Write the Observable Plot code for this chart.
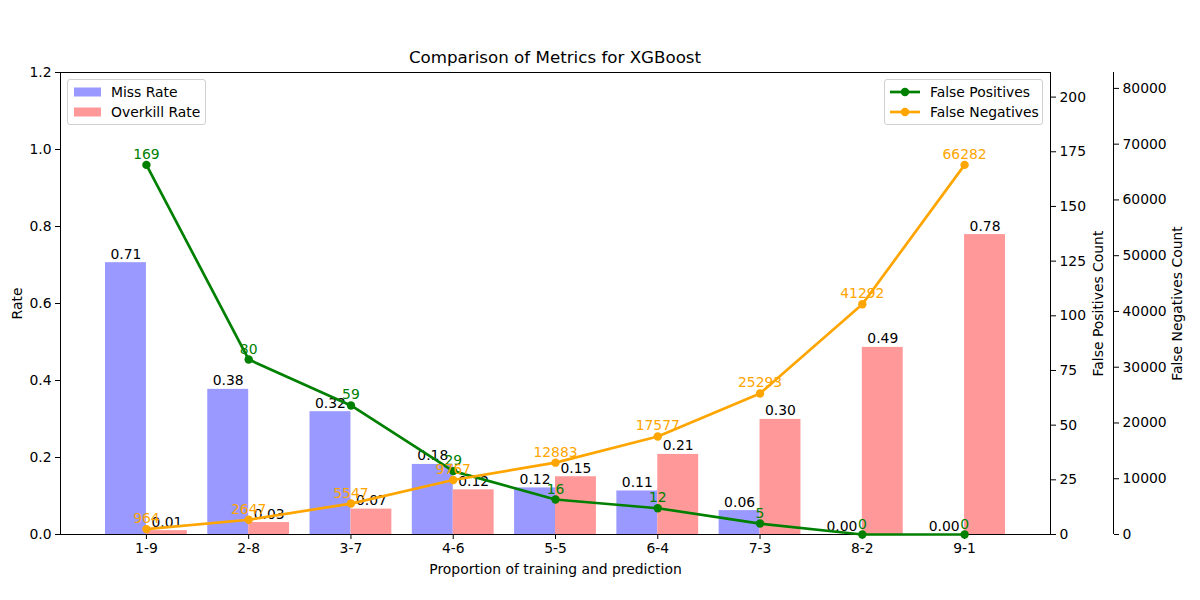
<!DOCTYPE html>
<html><head><meta charset="utf-8">
<script src="https://cdn.jsdelivr.net/npm/d3@7"></script>
<script src="https://cdn.jsdelivr.net/npm/@observablehq/plot@0.6"></script>
<style>
body{margin:0;background:#fff;font-family:"DejaVu Sans",sans-serif;}
#wrap{position:relative;width:1200px;height:600px;overflow:hidden;}
#wrap .layer{position:absolute;left:0;top:0;}
.title{position:absolute;left:60px;width:990px;top:48px;text-align:center;font-size:16.7px;line-height:19px;color:#000;}
.legend{position:absolute;background:rgba(255,255,255,0.8);border:1px solid #d0d0d0;border-radius:3px;box-sizing:border-box;font-size:13.9px;color:#000;}
.legend .row{position:absolute;left:0;height:16px;line-height:16px;white-space:nowrap;}
.legend svg{position:absolute;}
</style>
</head><body>
<div id="wrap"></div>
<script>
const categories = ["1-9","2-8","3-7","4-6","5-5","6-4","7-3","8-2","9-1"];
const missRate = [0.706, 0.377, 0.319, 0.182, 0.121, 0.113, 0.062, 0.000, 0.000];
const overkillRate = [0.010, 0.031, 0.066, 0.116, 0.150, 0.208, 0.299, 0.486, 0.779];
const falsePositives = [169, 80, 59, 29, 16, 12, 5, 0, 0];
const falseNegatives = [964, 2647, 5547, 9767, 12883, 17577, 25293, 41292, 66282];
const rateTicks = [0, 0.2, 0.4, 0.6, 0.8, 1.0, 1.2];
const fpTicks = [0, 25, 50, 75, 100, 125, 150, 175, 200];
const fnTicks = [0, 10000, 20000, 30000, 40000, 50000, 60000, 70000, 80000];

const rows = categories.map((c, i) => ({
  i, cat: c, miss: missRate[i], over: overkillRate[i], fp: falsePositives[i], fn: falseNegatives[i]
}));
const idx = categories.map((c, i) => i);

const W = 1200, H = 600, ML = 60, MR = 150, MT = 72, MB = 66;
const xDom = [-0.84, 8.84];
const fpMax = d3.max(falsePositives) * 1.25;
const fnMax = d3.max(falseNegatives) * 1.25;
const styleBase = {fontFamily: "DejaVu Sans", fontSize: "13.9px", color: "black", background: "transparent", overflow: "visible"};
const wrap = document.getElementById("wrap");

const p1 = Plot.plot({
  width: W, height: H, marginLeft: ML, marginRight: MR, marginTop: MT, marginBottom: MB,
  style: styleBase,
  x: {domain: xDom},
  y: {domain: [0, 1.2]},
  marks: [
    Plot.rect(rows, {x1: d => d.i - 0.4, x2: d => d.i, y1: 0, y2: "miss", fill: "#9999ff"}),
    Plot.rect(rows, {x1: d => d.i, x2: d => d.i + 0.4, y1: 0, y2: "over", fill: "#ff9999"}),
    Plot.text(rows, {x: d => d.i - 0.2, y: "miss", text: d => d.miss.toFixed(2), lineAnchor: "bottom", dy: -4, fill: "black"}),
    Plot.text(rows, {x: d => d.i + 0.2, y: "over", text: d => d.over.toFixed(2), lineAnchor: "bottom", dy: -4, fill: "black"}),
    Plot.axisX({ticks: idx, tickFormat: i => categories[i], tickSize: 5, tickPadding: 4, label: "Proportion of training and prediction", labelAnchor: "center", labelArrow: "none", labelOffset: 39}),
    Plot.axisY({ticks: rateTicks, tickFormat: d3.format(".1f"), tickSize: 5, tickPadding: 4, label: "Rate", labelAnchor: "center", labelArrow: "none", labelOffset: 48}),
    Plot.frame({stroke: "black", strokeWidth: 1})
  ]
});

const p2 = Plot.plot({
  width: W, height: H, marginLeft: ML, marginRight: MR, marginTop: MT, marginBottom: MB,
  style: styleBase,
  x: {domain: xDom, axis: null},
  y: {domain: [0, fpMax], axis: null},
  marks: [
    Plot.line(rows, {x: "i", y: "fp", stroke: "green", strokeWidth: 2.7}),
    Plot.dot(rows, {x: "i", y: "fp", r: 4.2, fill: "green"}),
    Plot.text(rows, {x: "i", y: "fp", text: d => String(d.fp), fill: "green", lineAnchor: "bottom", dy: -6}),
    Plot.axisY({anchor: "right", ticks: fpTicks, tickSize: 5, tickPadding: 4, label: "False Positives Count", labelAnchor: "center", labelArrow: "none", labelOffset: 52})
  ]
});

const xDom3 = [xDom[0], xDom[0] + (xDom[1] - xDom[0]) * (W - ML - 87) / (W - ML - MR)];
const p3 = Plot.plot({
  width: W, height: H, marginLeft: ML, marginRight: 87, marginTop: MT, marginBottom: MB,
  style: styleBase,
  x: {domain: xDom3, axis: null},
  y: {domain: [0, fnMax], axis: null},
  marks: [
    Plot.ruleX([xDom3[1]], {stroke: "black", strokeWidth: 1}),
    Plot.line(rows, {x: "i", y: "fn", stroke: "orange", strokeWidth: 2.7}),
    Plot.dot(rows, {x: "i", y: "fn", r: 4.2, fill: "orange"}),
    Plot.text(rows, {x: "i", y: "fn", text: d => String(d.fn), fill: "orange", lineAnchor: "bottom", dy: -6}),
    Plot.axisY({anchor: "right", ticks: fnTicks, tickFormat: d => String(d), tickSize: 5, tickPadding: 4, label: "False Negatives Count", labelAnchor: "center", labelArrow: "none", labelOffset: 68})
  ]
});

[p1, p2, p3].forEach(p => { p.classList.add("layer"); wrap.appendChild(p); });

const title = document.createElement("div");
title.className = "title";
title.textContent = "Comparison of Metrics for XGBoost";
wrap.appendChild(title);

function legend(left, top, width, items) {
  const box = document.createElement("div");
  box.className = "legend";
  box.style.left = left + "px"; box.style.top = top + "px";
  box.style.width = width + "px"; box.style.height = "46px";
  items.forEach((it, k) => {
    const y = 4 + k * 20;
    const sw = document.createElementNS("http://www.w3.org/2000/svg", "svg");
    sw.setAttribute("width", 30); sw.setAttribute("height", 16);
    sw.style.left = "5px"; sw.style.top = y + "px";
    if (it.type === "patch") {
      sw.innerHTML = `<rect x="1" y="3.5" width="27" height="9" fill="${it.color}"/>`;
    } else {
      sw.innerHTML = `<line x1="0" x2="30" y1="8" y2="8" stroke="${it.color}" stroke-width="2.7"/><circle cx="15" cy="8" r="4.2" fill="${it.color}"/>`;
    }
    box.appendChild(sw);
    const t = document.createElement("div");
    t.className = "row";
    t.style.top = y + "px"; t.style.left = it.tx + "px";
    t.textContent = it.label;
    box.appendChild(t);
  });
  wrap.appendChild(box);
}
legend(67, 79, 139, [
  {type: "patch", color: "#9999ff", label: "Miss Rate", tx: 43},
  {type: "patch", color: "#ff9999", label: "Overkill Rate", tx: 43}
]);
legend(884, 79, 159, [
  {type: "line", color: "green", label: "False Positives", tx: 45},
  {type: "line", color: "orange", label: "False Negatives", tx: 45}
]);
</script>
</body></html>
